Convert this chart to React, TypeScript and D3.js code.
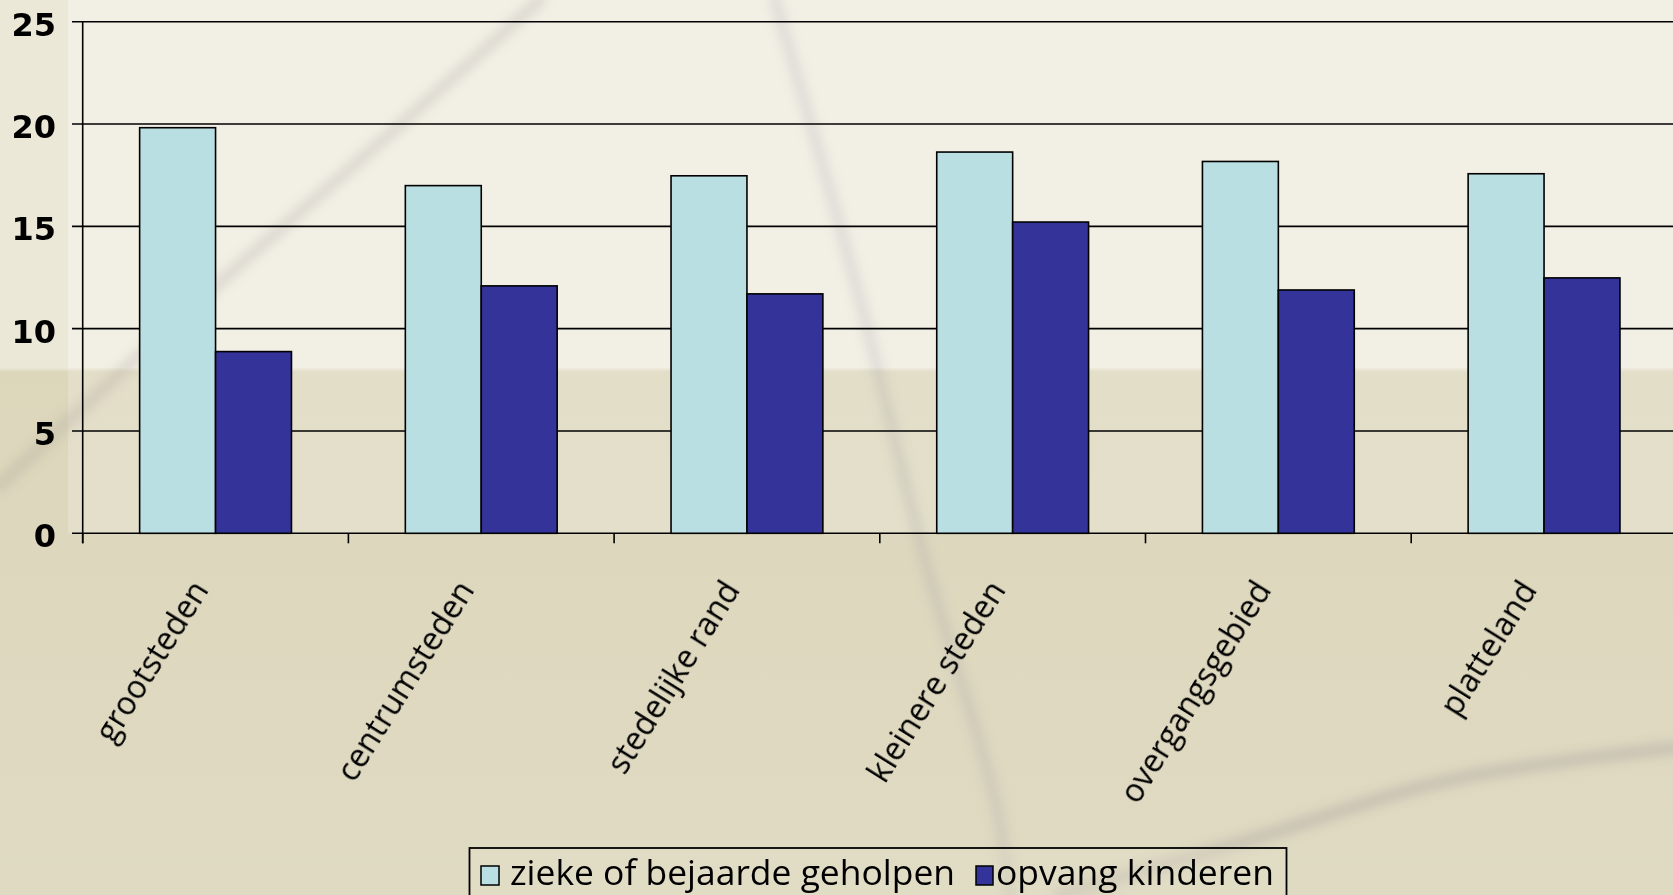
import React from "react";
import * as d3 from "d3";

// chart data
const categories = [
  "grootsteden",
  "centrumsteden",
  "stedelijke rand",
  "kleinere steden",
  "overgangsgebied",
  "platteland",
];
const seriesNames = ["zieke of bejaarde geholpen", "opvang kinderen"];
const ziekeValues = [19.82, 16.99, 17.47, 18.63, 18.17, 17.57];
const opvangValues = [8.88, 12.09, 11.7, 15.21, 11.89, 12.48];
const yTicks = [0, 5, 10, 15, 20, 25];
const seriesColors = ["#badfe3", "#333399"];

const width = 1673;
const height = 895;

export default function App() {
  const left = 82.7;
  const bandW = 265.7;
  const top = 21.7;
  const bottom = 533.3;

  const x = d3
    .scaleBand<string>()
    .domain(categories)
    .range([left, left + categories.length * bandW])
    .padding(0);

  // excel style: gap of 150% split on both sides of the pair of bars
  const xs = d3
    .scaleBand<string>()
    .domain(seriesNames)
    .range([0, x.bandwidth()])
    .paddingInner(0)
    .paddingOuter(0.75);

  const y = d3.scaleLinear().domain([0, 25]).range([bottom, top]);

  const rows = categories.map((c, i) => ({
    cat: c,
    vals: [ziekeValues[i], opvangValues[i]],
  }));

  const streak = d3.line().curve(d3.curveCatmullRom);

  return (
    <svg
      width={width}
      height={height}
      style={{ position: "absolute", left: 0, top: 0, display: "block" }}
    >
      <defs>
        <filter id="blur" x="-20%" y="-20%" width="140%" height="140%">
          <feGaussianBlur stdDeviation="5" />
        </filter>
        <linearGradient id="bg" x1="0" y1="0" x2="0" y2="1">
          <stop offset="0" stopColor="#ebe8d7" />
          <stop offset={368 / height} stopColor="#ebe8d7" />
          <stop offset={372 / height} stopColor="#dcd6bb" />
          <stop offset="1" stopColor="#dfdac2" />
        </linearGradient>
      </defs>

      {/* background */}
      <rect x={0} y={0} width={width} height={height} fill="url(#bg)" />
      <rect x={68} y={0} width={width - 68} height={368} fill="#ffffff" opacity={0.35} />
      <rect x={68} y={368} width={width - 68} height={bottom - 368} fill="#ffffff" opacity={0.2} />

      <g filter="url(#blur)" fill="none" strokeLinecap="round">
        <path
          d={streak([[0, 485], [200, 300], [400, 125], [540, 0]]) || ""}
          stroke="#9a8f93"
          strokeWidth={14}
          opacity={0.2}
        />
        <path
          d={streak([[775, 0], [860, 300], [925, 560], [995, 800], [1010, 895]]) || ""}
          stroke="#9a9aa6"
          strokeWidth={13}
          opacity={0.2}
        />
        <path
          d={streak([[1060, 895], [1250, 840], [1450, 780], [1673, 748]]) || ""}
          stroke="#8f8790"
          strokeWidth={14}
          opacity={0.25}
        />
      </g>

      {/* gridlines and axes */}
      <g stroke="#000" strokeWidth={1.6}>
        {yTicks.map((t) => (
          <line key={t} x1={72} x2={width} y1={y(t)} y2={y(t)} />
        ))}
        <line x1={left} x2={left} y1={top} y2={bottom + 10} />
        {categories.map((c) => (
          <line key={c} x1={x(c)!} x2={x(c)!} y1={bottom} y2={bottom + 10} />
        ))}
      </g>

      {/* bars */}
      {rows.map((r) => (
        <g key={r.cat} transform={`translate(${x(r.cat)},0)`}>
          {r.vals.map((v, j) => (
            <rect
              key={j}
              x={xs(seriesNames[j])}
              y={y(v)}
              width={xs.bandwidth()}
              height={y(0) - y(v)}
              fill={seriesColors[j]}
              stroke="#000"
              strokeWidth={1.6}
            />
          ))}
        </g>
      ))}

      {/* y tick labels */}
      <g fontFamily="'DejaVu Sans', Verdana, sans-serif" fontWeight="bold" fontSize={32} textAnchor="end">
        {yTicks.map((t) => (
          <text key={t} x={56} y={y(t) + 14}>
            {t}
          </text>
        ))}
      </g>

      {/* category labels */}
      <g fontFamily="'Open Sans', sans-serif" fontSize={32} textAnchor="end" fill="#000">
        {categories.map((c) => (
          <text
            key={c}
            transform={`translate(${x(c)! + x.bandwidth() / 2 - 6},590) rotate(-58)`}
          >
            {c}
          </text>
        ))}
      </g>

      {/* legend */}
      <g>
        <rect x={469.5} y={848} width={817} height={70} fill="#e4dfc8" fillOpacity={0.4} stroke="#000" strokeWidth={1.8} />
        <rect x={481} y={866} width={18} height={19} fill={seriesColors[0]} stroke="#000" strokeWidth={1.5} />
        <rect x={976} y={866} width={17} height={19} fill={seriesColors[1]} stroke="#000" strokeWidth={1.5} />
        <g fontFamily="'Open Sans', sans-serif" fontSize={34} fill="#000">
          <text x={510} y={885} textLength={445} lengthAdjust="spacingAndGlyphs">
            {seriesNames[0]}
          </text>
          <text x={996} y={885} textLength={278} lengthAdjust="spacingAndGlyphs">
            {seriesNames[1]}
          </text>
        </g>
      </g>
    </svg>
  );
}
